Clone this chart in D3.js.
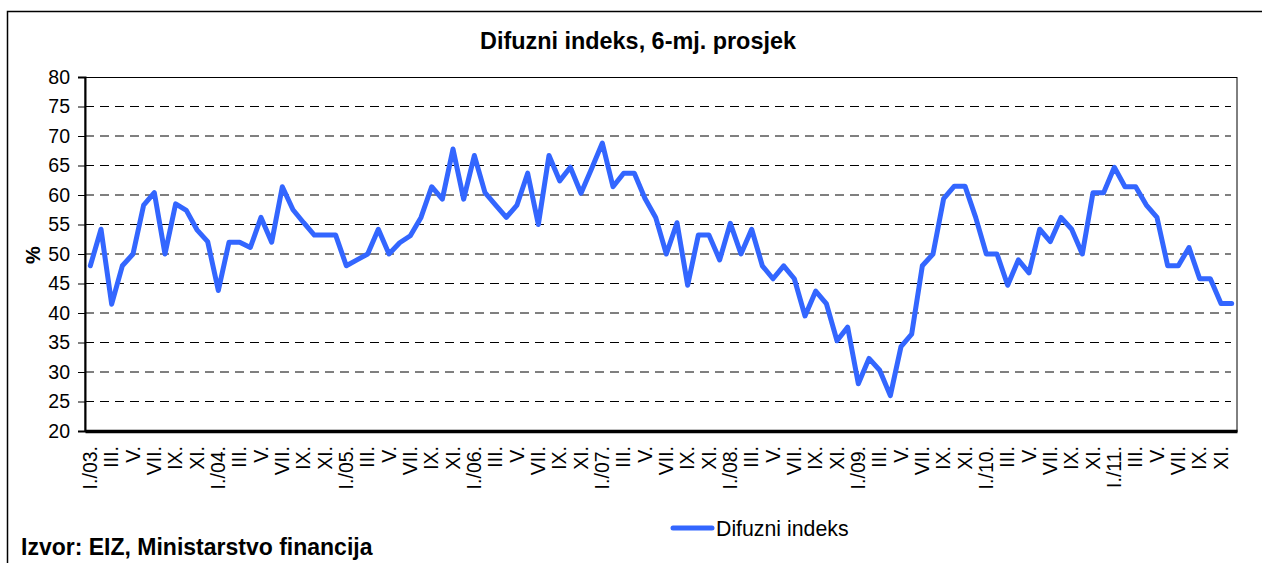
<html lang="hr">
<head>
  <meta http-equiv="Content-Type" content="text/html; charset=utf-8" />
  <script src="https://d3js.org/d3.v7.min.js"></script>
  <style>
    body { margin: 0; background: #fff; }
    text { font-family: "Liberation Sans", Arial, sans-serif; }
  </style>
</head>
<body>
  <div id="chart"></div>
  <script>
    const title = "Difuzni indeks, 6-mj. prosjek";
    const seriesName = "Difuzni indeks";
    const source = "Izvor: EIZ, Ministarstvo financija";

    const years = ["03", "04", "05", "06", "07", "08", "09", "10", "11"];
    const months = ["I.", "II.", "III.", "IV.", "V.", "VI.", "VII.", "VIII.", "IX.", "X.", "XI.", "XII."];
    const yTicks = [20, 25, 30, 35, 40, 45, 50, 55, 60, 65, 70, 75, 80];

    // monthly values, I./03 .. XII./11
    const values = [
      48.0, 54.2, 41.5, 48.0, 50.0, 58.3, 60.4, 50.0, 58.5, 57.4, 54.1, 52.1,
      43.8, 52.0, 52.0, 51.1, 56.2, 52.0, 61.4, 57.5, 55.3, 53.2, 53.2, 53.2,
      48.0, 49.0, 50.0, 54.2, 50.0, 51.9, 53.1, 56.2, 61.4, 59.3, 67.8, 59.3,
      66.7, 60.4, 58.3, 56.2, 58.3, 63.7, 55.0, 66.7, 62.4, 64.7, 60.3, 64.5,
      68.8, 61.4, 63.7, 63.7, 59.4, 56.2, 50.0, 55.3, 44.7, 53.2, 53.2, 49.0,
      55.2, 50.0, 54.2, 48.0, 45.8, 48.0, 45.8, 39.5, 43.7, 41.6, 35.3, 37.6,
      28.0, 32.3, 30.3, 26.0, 34.3, 36.4, 48.0, 50.0, 59.4, 61.5, 61.5, 56.2,
      50.0, 50.0, 44.7, 49.0, 46.8, 54.2, 52.1, 56.2, 54.2, 50.0, 60.4, 60.4,
      64.7, 61.4, 61.4, 58.3, 56.2, 48.0, 48.0, 51.1, 45.8, 45.8, 41.6, 41.6
    ];

    const categories = [];
    years.forEach(y => months.forEach((m, i) => categories.push(i === 0 ? m + "/" + y + "." : m)));
    const data = categories.map((c, i) => ({ idx: i, cat: c, value: values[i] }));

    const svgWidth = 1262, svgHeight = 563;
    const plot = { left: 85, top: 77, right: 1237, bottom: 431 };
    const lineColor = "#3366FF";

    const svg = d3.select("#chart").append("svg")
      .attr("width", svgWidth).attr("height", svgHeight);

    // outer frame
    svg.append("rect").attr("x", 7.5).attr("y", 11.5).attr("width", 1300).attr("height", 600)
      .attr("fill", "none").attr("stroke", "#000").attr("stroke-width", 1.5);

    svg.append("text").attr("x", 638).attr("y", 49).attr("text-anchor", "middle")
      .attr("font-size", "23.4px").attr("font-weight", "bold").text(title);

    // band scale over month index (labels repeat, so index is the key)
    const x = d3.scaleBand().domain(d3.range(categories.length)).range([plot.left, plot.right]);
    const y = d3.scaleLinear().domain([20, 80]).range([plot.bottom, plot.top]);

    // plot area border
    svg.append("rect").attr("x", plot.left).attr("y", plot.top + 0.5)
      .attr("width", plot.right - plot.left).attr("height", plot.bottom - plot.top)
      .attr("fill", "none").attr("stroke", "#000").attr("stroke-width", 1);

    // grid
    svg.append("g").selectAll("line").data(yTicks.filter(t => t > 20 && t < 80)).join("line")
      .attr("x1", plot.left).attr("x2", plot.right - 6)
      .attr("y1", d => y(d)).attr("y2", d => y(d))
      .attr("stroke", "#000").attr("stroke-width", 1).attr("stroke-dasharray", "9,6");

    // y axis
    const yAxis = svg.append("g").attr("transform", `translate(${plot.left},0)`)
      .call(d3.axisLeft(y).tickValues(yTicks).tickSize(7).tickPadding(8));
    yAxis.select(".domain").attr("stroke-width", 2);
    yAxis.selectAll("text").attr("font-size", "19.5px").attr("fill", "#000")
      .attr("font-family", "Liberation Sans, Arial, sans-serif");

    svg.append("text")
      .attr("transform", "translate(40,255) rotate(-90)")
      .attr("text-anchor", "middle").attr("font-size", "20px").attr("font-weight", "bold").text("%");

    // x axis, every second month labelled
    const xAxis = svg.append("g").attr("transform", `translate(0,${plot.bottom})`)
      .call(d3.axisBottom(x).tickSize(0).tickFormat(i => i % 2 === 0 ? categories[i] : ""));
    xAxis.select(".domain").attr("stroke-width", 3.5);
    xAxis.selectAll("text")
      .attr("font-size", "19.5px").attr("fill", "#000")
      .attr("font-family", "Liberation Sans, Arial, sans-serif")
      .attr("text-anchor", "end")
      .attr("transform", "rotate(-90)")
      .attr("x", -15).attr("y", 0).attr("dy", "0.35em");

    // series line
    const line = d3.line().x(d => x(d.idx) + x.bandwidth() / 2).y(d => y(d.value));
    svg.append("path").datum(data)
      .attr("d", line).attr("fill", "none").attr("stroke", lineColor)
      .attr("stroke-width", 5).attr("stroke-linejoin", "round").attr("stroke-linecap", "round");

    // legend
    svg.append("line").attr("x1", 673).attr("x2", 712).attr("y1", 528).attr("y2", 528)
      .attr("stroke", lineColor).attr("stroke-width", 5).attr("stroke-linecap", "round");
    svg.append("text").attr("x", 716).attr("y", 536).attr("font-size", "21.3px").text(seriesName);

    svg.append("text").attr("x", 21).attr("y", 555).attr("font-size", "23px")
      .attr("font-weight", "bold").text(source);
  </script>
</body>
</html>
